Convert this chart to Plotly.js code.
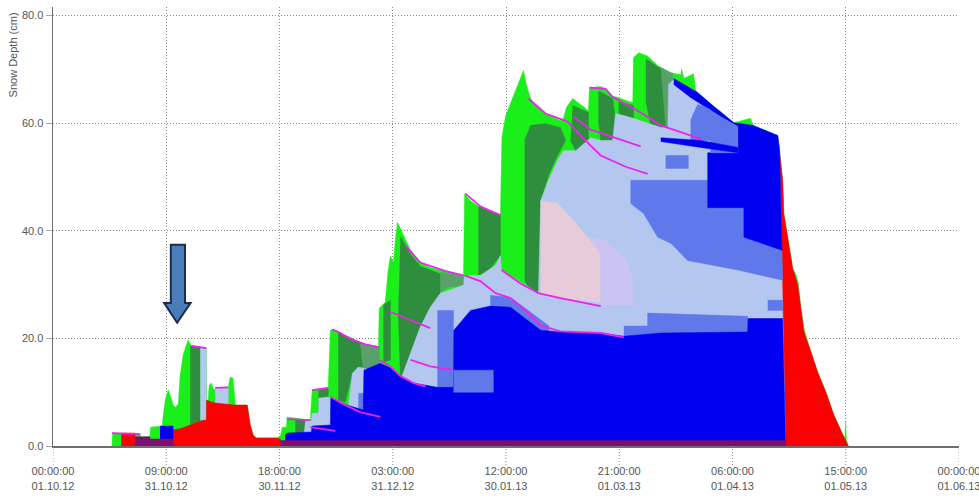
<!DOCTYPE html>
<html><head><meta charset="utf-8">
<script src="https://cdn.plot.ly/plotly-3.0.1.min.js"></script>
<style>html,body{margin:0;padding:0;background:#fff}#chart{width:979px;height:496px}</style>
</head><body><div id="chart"></div>
<script>
// ---- axis ticks ----
const tickDays  = [0, 30.375, 60.75, 91.125, 121.5, 151.875, 182.25, 212.625, 243];
const tickTimes = ['00:00:00','09:00:00','18:00:00','03:00:00','12:00:00','21:00:00','06:00:00','15:00:00','00:00:00'];
const tickDates = ['01.10.12','31.10.12','30.11.12','31.12.12','30.01.13','01.03.13','01.04.13','01.05.13','01.06.13'];
const depthTicks = [0, 20, 40, 60, 80];

// ---- total snow depth (days since 01.10.12, cm) ----
const envDay = [15.8,16.0,23.4,23.5,26.0,26.2,29.3,29.5,30.1,30.9,31.7,32.2,32.8,33.6,34.1,34.9,36.2,37.1,37.9,41.1,41.2,41.6,41.9,42.4,43.2,43.8,47.0,47.5,48.3,48.9,52.1,52.9,53.7,54.5,60.1,61.0,61.5,62.6,62.8,66.3,69.0,69.5,71.7,73.8,74.4,74.9,77.1,79.7,83.8,87.3,87.5,89.1,89.9,90.5,91.3,91.8,92.4,93.2,95.9,98.5,101.2,105.3,110.1,110.4,112.0,114.7,117.3,120.0,120.4,121.4,124.1,125.4,126.2,127.0,128.1,129.4,132.1,136.1,136.9,137.7,139.4,141.5,143.6,143.9,146.9,148.2,150.1,150.9,153.6,155.5,155.7,157.1,159.5,162.2,165.7,168.4,168.6,169.2,171.8,172.4,176.4,182.6,187.1,187.7,194.4,194.7,195.7,196.0,197.1,198.4,199.2,199.8,200.6,201.4,202.7,205.1,207.3,209.4,211.9,212.4,212.6,212.8,213.3];
const envCm  = [0,2.4,2.2,1.7,1.7,3.5,3.7,5.4,8.5,10.4,8.9,7.6,7.2,7.8,13.2,16.9,19.7,18.7,18.4,18.2,8.5,8.5,11.3,11.7,10.4,10.9,10.9,12.8,12.6,7.6,7.6,3.9,2.0,1.5,1.5,1.9,3.5,3.5,5.4,5.0,4.8,10.4,10.4,10.8,21.5,21.7,21.0,19.9,18.9,18.4,25.6,26.7,32.7,35.3,34.1,38.2,41.6,40.4,36.4,34.1,33.2,32.5,31.7,46.9,45.6,44.3,43.2,42.6,57.3,61.4,66.0,68.5,69.8,67.0,64.6,63.3,61.8,60.5,60.9,62.9,64.6,63.5,62.3,66.6,66.8,66.4,64.9,64.9,64.2,63.8,72.2,73.1,72.5,70.7,69.4,69.0,70.1,68.3,69.2,66.0,63.6,60.1,60.9,59.6,57.7,55.8,49.4,43.2,38.2,33.0,32.0,30.6,25.6,22.0,18.7,13.7,10.0,5.8,2.0,1.6,4.6,1.2,0];

// ---- melt layer (red) ----
const meltDay = [194.7,195.7,196.0,197.1,198.4,199.8,200.6,201.4,202.7,205.1,207.3,209.4,211.9,213.2,213.3];
const meltCm  = [55.8,49.4,43.2,38.2,33.0,29.8,25.6,21.2,18.7,13.7,10.0,5.8,2.0,0.2,0];

// ---- top of rounded-grain layer (light blue) ----
const lbDay = [62.8,67.4,67.7,69.3,69.5,71.2,71.3,73.8,74.4,78.9,79.1,80.3,81.9,83.2,87.5,87.8,93.2,95.9,98.5,101.2,103.9,110.1,110.4,114.7,118.7,120.0,120.3,130.2,130.8,132.9,135.3,136.9,140.2,144.2,146.9,150.1,150.9,155.7,159.0,163.0,164.9,165.1,166.5,172.9,176.4,182.6,187.7,194.4,194.8,195.7,196.5];
const lbCm  = [2.2,2.4,4.6,4.6,6.1,6.1,8.9,9.1,8.9,7.6,6.7,13.5,14.7,14.5,13.7,15.6,12.2,17.3,22.1,25.8,28.4,29.9,31.7,31.7,33.6,35.4,32.7,28.4,45.6,49.4,53.1,54.9,54.9,57.3,56.8,56.8,61.8,60.9,60.1,59.2,59.2,67.3,68.1,65.5,63.3,59.7,59.2,57.3,55.8,23.7,0];

// ---- top of depth-hoar base (blue) ----
const baseDay = [62.3,62.8,69.3,69.5,74.4,74.5,78.9,83.2,83.4,87.8,90.5,93.2,96.7,103.1,107.4,107.5,112.0,117.3,122.7,126.7,130.8,136.1,146.9,153.1,163.0,186.3,186.4,195.7,196.5];
const baseCm  = [2.0,2.4,2.6,3.7,3.9,8.9,7.6,6.7,14.1,15.4,14.5,12.8,11.7,10.9,10.9,21.5,25.2,26.0,25.8,23.7,21.5,21.2,21.0,20.4,21.0,21.2,23.7,23.7,0];

// ---- early-season patches ----
const redE1Day = [18.4,18.4,22.0,22.0],  redE1Cm = [0,2.4,2.4,0];
const redE2Day = [32.2,32.2,34.1,36.8,40.3,41.1,41.2,43.5,48.9,52.1,52.9,53.7,54.5,60.1,61.0,61.0];
const redE2Cm  = [0,3.0,3.2,3.9,4.8,4.8,8.5,8.0,7.6,7.6,3.9,2.0,1.5,1.5,1.3,0];
const dgEarlyDay = [36.8,39.5,39.5,36.8], dgEarlyCm = [18.6,18.4,4.4,4.0];
const lbEarly1Day = [39.5,41.1,41.1,39.5], lbEarly1Cm = [18.4,18.2,4.8,4.8];
const lbEarly2Day = [43.5,47.0,47.0,43.5], lbEarly2Cm = [10.8,10.9,7.8,7.8];
const blueEarlyDay = [28.7,32.2,32.2,28.7], blueEarlyCm = [3.7,3.7,1.3,1.3];
const purpleEarlyDay = [22.0,22.0,26.0,26.0,32.2,32.2], purpleEarlyCm = [0,1.7,1.7,1.3,1.3,0];
const purpleDay = [61.0,61.0,196.5,196.5], purpleCm = [0,1.0,1.0,0];

// ---- decomposing / fragmented snow (dark & grey green) ----
const dgE1Day = [65.0,67.7,67.7,65.0], dgE1Cm = [5.0,4.8,2.4,2.4];
const dgE2Day = [71.2,73.8,73.8,71.2], dgE2Cm = [10.4,10.8,3.9,3.9];
const dgE3Day = [76.5,82.4,83.2,80.3,78.4,76.5], dgE3Cm = [21.2,19.3,14.1,13.5,8.2,8.5];
const ggE3Day = [82.4,87.5,87.5,83.2], ggE3Cm = [19.1,18.4,13.7,14.1];
const dgE4aDay = [88.6,90.5,90.5,88.6], dgE4aCm = [26.2,27.1,16.0,15.6];
const dgE4Day = [93.2,95.9,98.5,103.9,103.9,101.2,98.5,95.9,93.2,92.6];
const dgE4Cm  = [39.0,35.6,33.4,32.0,28.4,25.8,22.1,17.3,12.2,25.0];
const ggE4Day = [103.9,110.1,110.1,105.8,103.9], ggE4Cm = [32.3,31.5,29.9,29.5,28.4];
const dgE5Day = [114.1,120.0,120.0,117.3,114.1], dgE5Cm = [44.5,42.9,35.4,33.0,31.7];
const dgE6Day = [126.5,128.1,132.1,136.1,137.5,135.3,132.9,130.8,130.8,128.1,126.5];
const dgE6Cm  = [56.8,59.6,59.9,59.2,56.8,54.0,50.3,45.6,28.4,28.9,30.8];
const dgE7Day = [139.4,143.6,143.6,140.2,138.8], dgE7Cm = [63.3,62.0,54.9,54.9,56.8];
const dgE8Day = [146.3,150.1,150.9,150.1,146.9,146.3], dgE8Cm = [66.0,64.6,60.5,56.8,56.8,60.5];
const dgE8bDay = [151.7,155.7,155.7,151.7], dgE8bCm = [64.0,63.3,60.9,61.8];
const dgE9Day = [159.0,162.2,165.1,165.1,163.0,160.3,159.0], dgE9Cm = [72.0,70.5,69.4,59.6,59.0,59.6,64.2];
const ggE9Day = [163.0,166.2,167.0,164.3], ggE9Cm = [70.3,69.2,59.6,59.0];

// ---- pink / lavender ----
const pinkDay = [130.8,135.3,139.6,143.4,146.9,146.9,136.1,130.8], pinkCm = [45.6,45.1,41.9,38.8,35.8,26.7,27.5,28.4];
const lavDay = [143.4,148.2,150.9,153.6,155.5,155.7,146.9,146.9], lavCm = [38.8,38.2,36.4,34.9,30.8,26.2,26.2,35.8];

// ---- faceted (medium blue) and depth hoar (blue) patches ----
const mbBigDay = [154.9,175.9,175.9,185.3,185.3,195.5,195.7,183.7,170.2,165.7,162.2,158.4,154.9];
const mbBigCm  = [49.4,49.4,44.3,44.3,38.8,36.4,30.8,32.7,34.5,37.7,38.8,43.2,45.1];
const mbPatchDay = [164.3,170.4,170.4,164.3], mbPatchCm = [54.0,54.0,51.6,51.6];
const blueUrDay = [166.5,172.9,176.4,182.6,187.7,194.4,194.9,195.5,185.3,185.3,175.6,175.6,183.7,183.7,179.1,175.3,171.0,166.5];
const blueUrCm  = [68.3,65.7,63.6,60.1,59.6,57.7,54.9,36.4,38.8,44.3,44.3,54.5,54.5,59.4,61.2,62.9,64.8,67.2];
const mbUpperDay = [171.0,172.9,175.3,179.1,183.7,183.7,176.4,176.4,171.0], mbUpperCm = [60.5,63.5,62.9,61.2,59.4,54.5,54.5,56.8,56.8];
const streakDay = [163.0,173.7,183.7,183.7,173.7,163.0], streakCm = [57.3,56.8,55.5,54.5,55.5,56.6];
const mbSmallDay = [191.7,195.7,195.7,191.7], mbSmallCm = [27.1,27.1,25.2,25.2];
const mbE3Day = [81.9,84.3,84.3,81.9], mbE3Cm = [9.8,9.8,6.7,6.7];
const mb437Day = [103.1,107.4,107.4,103.1], mb437Cm = [25.2,25.2,10.4,10.4];
const mbE4bDay = [117.3,122.7,126.7,130.8,133.0,133.0,117.3], mbE4bCm = [28.0,27.6,25.6,23.4,22.3,19.5,19.5];
const mbStripDay = [153.1,159.5,159.5,186.3,186.3,153.1], mbStripCm = [22.3,22.3,24.7,24.1,19.7,19.7];
const mb453Day = [107.4,118.1,118.1,107.4], mb453Cm = [14.1,14.1,10.0,10.0];

// ---- crust / surface-hoar marker lines (magenta) ----
const crustLines = [
  [[15.8,23.4],[2.4,2.2]],
  [[37.3,41.1],[18.6,18.2]],
  [[43.5,47.0],[10.8,10.9]],
  [[62.8,69.0],[5.0,4.8]],
  [[69.0,75.7],[3.5,2.8]],
  [[69.5,73.8],[10.4,10.8]],
  [[74.4,78.4,82.4,87.8],[9.1,7.6,6.3,5.4]],
  [[74.9,77.1,79.7,83.8,87.3],[21.7,21.0,19.9,18.9,18.4]],
  [[87.5,90.5,93.2,96.7,99.9],[16.0,14.8,13.0,11.7,11.1]],
  [[95.9,101.2,107.4],[16.0,14.8,14.1]],
  [[90.5,95.9,101.2],[24.9,23.4,21.9]],
  [[94.5,98.5,105.3,110.1],[37.3,34.1,32.5,31.7]],
  [[110.4,114.7,118.7,122.7,126.7,130.8,136.1,146.9,153.1],[31.7,30.6,28.4,27.5,25.2,22.4,21.3,21.0,20.2]],
  [[110.6,114.7,120.0],[46.9,44.5,42.9]],
  [[120.3,125.4,130.2,136.1,146.9],[32.7,30.2,28.4,27.5,26.0]],
  [[127.5,132.1,138.0,141.5,146.9,153.6,159.5],[64.6,61.8,60.3,57.7,54.0,51.9,50.6]],
  [[139.6,144.2,157.6],[61.2,58.8,55.7]],
  [[143.9,148.2,150.1,150.9,157.6,163.0,173.7],[66.6,66.4,64.9,64.6,62.0,59.6,57.1]]
];

// ---- colours ----
const C = {
  green:'#1aef1a', dgreen:'#2e8e3e', ggreen:'#5aa06a', lblue:'#b3c7ef', mblue:'#6079ea',
  blue:'#0000f0', pink:'#e8cbd8', lav:'#cbc4f3', red:'#fa0000', purple:'#7d0f72', crust:'#ee22ee'
};

const traces = [];
function area(x, y, col){ traces.push({x, y, type:'scatter', mode:'lines', fill:'tozeroy', fillcolor:col, line:{color:col, width:0.5}, hoverinfo:'skip', showlegend:false}); }
function poly(x, y, col){ traces.push({x, y, type:'scatter', mode:'lines', fill:'toself', fillcolor:col, line:{color:col, width:0.5}, hoverinfo:'skip', showlegend:false}); }

area(envDay, envCm, C.green);
area(meltDay, meltCm, C.red);
poly(dgEarlyDay, dgEarlyCm, C.dgreen);
poly(lbEarly1Day, lbEarly1Cm, C.lblue);
poly(lbEarly2Day, lbEarly2Cm, C.lblue);
poly(redE1Day, redE1Cm, C.red);
poly(redE2Day, redE2Cm, C.red);
poly(blueEarlyDay, blueEarlyCm, C.blue);
poly(purpleEarlyDay, purpleEarlyCm, C.purple);

poly(dgE1Day, dgE1Cm, C.dgreen);
poly(dgE2Day, dgE2Cm, C.dgreen);
poly(dgE3Day, dgE3Cm, C.dgreen);
poly(ggE3Day, ggE3Cm, C.ggreen);
poly(dgE4aDay, dgE4aCm, C.dgreen);
poly(dgE4Day, dgE4Cm, C.dgreen);
poly(ggE4Day, ggE4Cm, C.ggreen);
poly(dgE5Day, dgE5Cm, C.dgreen);
poly(dgE6Day, dgE6Cm, C.dgreen);
poly(dgE7Day, dgE7Cm, C.dgreen);
poly(dgE8Day, dgE8Cm, C.dgreen);
poly(dgE8bDay, dgE8bCm, C.dgreen);
poly(dgE9Day, dgE9Cm, C.dgreen);
poly(ggE9Day, ggE9Cm, C.ggreen);

area(lbDay, lbCm, C.lblue);
poly(pinkDay, pinkCm, C.pink);
poly(lavDay, lavCm, C.lav);
poly(mbBigDay, mbBigCm, C.mblue);
poly(mbPatchDay, mbPatchCm, C.mblue);
poly(blueUrDay, blueUrCm, C.blue);
poly(mbUpperDay, mbUpperCm, C.mblue);
poly(streakDay, streakCm, C.blue);
poly(mbSmallDay, mbSmallCm, C.mblue);
poly(mbE3Day, mbE3Cm, C.mblue);
poly(mb437Day, mb437Cm, C.mblue);
poly(mbE4bDay, mbE4bCm, C.mblue);
poly(mbStripDay, mbStripCm, C.mblue);
area(baseDay, baseCm, C.blue);
poly(mb453Day, mb453Cm, C.mblue);
poly(purpleDay, purpleCm, C.purple);

crustLines.forEach(l => traces.push({x:l[0], y:l[1], type:'scatter', mode:'lines', line:{color:C.crust, width:1.8}, hoverinfo:'skip', showlegend:false}));

const tickFont = {family:'"Liberation Sans", Arial, sans-serif', size:11, color:'#555'};
const shapes = tickDays.map(d => ({type:'line', xref:'x', yref:'paper', x0:d, x1:d, y0:0, y1:-0.045, line:{color:'#8a8a8a', width:1, dash:'1px,2px'}}));
shapes.push({type:'path', xref:'x', yref:'y', layer:'above',
  path:'M 31.6 37.4 L 35.4 37.4 L 35.4 26.6 L 36.9 26.6 L 33.3 22.9 L 29.8 26.6 L 31.6 26.6 Z',
  fillcolor:'#4a7ebb', line:{color:'#1d2d4d', width:2}});

const layout = {
  width:979, height:496,
  margin:{l:53, r:20, t:7, b:50},
  paper_bgcolor:'#fff', plot_bgcolor:'#fff',
  showlegend:false,
  xaxis:{range:[0,243], tickvals:tickDays, ticktext:tickTimes.map((t,i)=>t+'<br>'+tickDates[i]),
    showgrid:true, gridcolor:'#8a8a8a', griddash:'1px,2px', gridwidth:1, zeroline:false,
    showline:true, linecolor:'#6e6e6e', linewidth:2, ticks:'outside', ticklen:14, tickcolor:'rgba(0,0,0,0)',
    tickfont:tickFont, ticklabeloverflow:'allow', automargin:false, fixedrange:true},
  yaxis:{range:[0,81.6], tickvals:depthTicks, tickformat:'.1f',
    showgrid:true, gridcolor:'#8a8a8a', griddash:'1px,2px', gridwidth:1, zeroline:false,
    showline:true, linecolor:'#6e6e6e', linewidth:1.5, ticks:'outside', ticklen:6, tickcolor:'#aaa',
    tickfont:tickFont, automargin:false, fixedrange:true},
  shapes:shapes,
  annotations:[{text:'Snow Depth (cm)', xref:'paper', yref:'paper', x:-0.044, y:0.89, xanchor:'center', yanchor:'middle',
    textangle:-90, showarrow:false, font:{family:'"Liberation Sans", Arial, sans-serif', size:11, color:'#555'}}]
};
Plotly.newPlot('chart', traces, layout, {displayModeBar:false, staticPlot:true});
</script></body></html>
